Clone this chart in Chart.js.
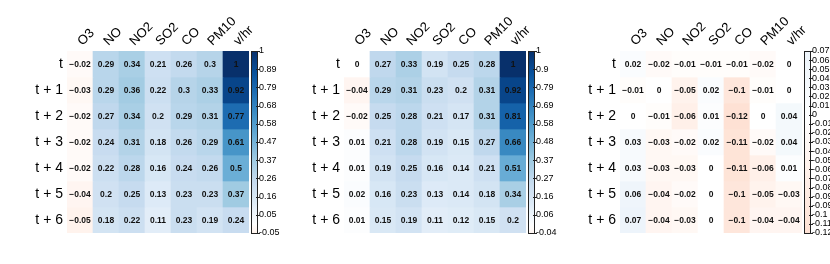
<!DOCTYPE html>
<html>
<head>
<meta charset="utf-8">
<script src="https://cdn.jsdelivr.net/npm/chart.js@4/dist/chart.umd.min.js"></script>
<style>
  body { margin: 0; background: #fff; }
  #wrap { position: relative; width: 830px; height: 264px; overflow: hidden; }
  canvas { position: absolute; top: 0; }
</style>
</head>
<body>
<div id="wrap">
  <canvas id="c1" width="280" height="264" style="left:0px"></canvas>
  <canvas id="c2" width="280" height="264" style="left:280px"></canvas>
  <canvas id="c3" width="270" height="264" style="left:560px"></canvas>
</div>
<script>
// columns and lag rows
const cols = ['O3', 'NO', 'NO2', 'SO2', 'CO', 'PM10', 'v/hr'];
const rows = ['t', 't + 1', 't + 2', 't + 3', 't + 4', 't + 5', 't + 6'];

// correlation values, one array per row (t .. t + 6)
const corrLeft = [
    [-0.02, 0.29, 0.34, 0.21, 0.26, 0.3, 1],
    [-0.03, 0.29, 0.36, 0.22, 0.3, 0.33, 0.92],
    [-0.02, 0.27, 0.34, 0.2, 0.29, 0.31, 0.77],
    [-0.02, 0.24, 0.31, 0.18, 0.26, 0.29, 0.61],
    [-0.02, 0.22, 0.28, 0.16, 0.24, 0.26, 0.5],
    [-0.04, 0.2, 0.25, 0.13, 0.23, 0.23, 0.37],
    [-0.05, 0.18, 0.22, 0.11, 0.23, 0.19, 0.24],
];
const corrMid = [
    [0, 0.27, 0.33, 0.19, 0.25, 0.28, 1],
    [-0.04, 0.29, 0.31, 0.23, 0.2, 0.31, 0.92],
    [-0.02, 0.25, 0.28, 0.21, 0.17, 0.31, 0.81],
    [0.01, 0.21, 0.28, 0.19, 0.15, 0.27, 0.66],
    [0.01, 0.19, 0.25, 0.16, 0.14, 0.21, 0.51],
    [0.02, 0.16, 0.23, 0.13, 0.14, 0.18, 0.34],
    [0.01, 0.15, 0.19, 0.11, 0.12, 0.15, 0.2],
];
const corrRight = [
    [0.02, -0.02, -0.01, -0.01, -0.01, -0.02, 0],
    [-0.01, 0, -0.05, 0.02, -0.1, -0.01, 0],
    [0, -0.01, -0.06, 0.01, -0.12, 0, 0.04],
    [0.03, -0.03, -0.02, 0.02, -0.11, -0.02, 0.04],
    [0.03, -0.03, -0.03, 0, -0.11, -0.06, 0.01],
    [0.06, -0.04, -0.02, 0, -0.1, -0.05, -0.03],
    [0.07, -0.04, -0.03, 0, -0.1, -0.04, -0.04],
];

// colour bar tick labels, top to bottom
const keyLeft = ['1', '0.89', '0.79', '0.68', '0.58', '0.47', '0.37', '0.26', '0.16', '0.05', '-0.05'];
const keyMid = ['1', '0.9', '0.79', '0.69', '0.58', '0.48', '0.37', '0.27', '0.16', '0.06', '-0.04'];
const keyRight = ['0.07', '0.06', '0.05', '0.04', '0.03', '0.02', '0.01', '0', '-0.01', '-0.02', '-0.03',
    '-0.04', '-0.05', '-0.06', '-0.07', '-0.08', '-0.09', '-0.09', '-0.1', '-0.11', '-0.12'];

const FONT = "'Liberation Sans', Arial, sans-serif";

// blues for positive, reds for negative (scale -1 .. 1)
const blues = ['#ffffff', '#deebf7', '#c6dbef', '#9ecae1', '#6baed6', '#4292c6', '#2171b5', '#08519c', '#08306b'];
const reds = ['#ffffff', '#fee0d2', '#fcbba1', '#fc9272', '#fb6a4a', '#ef3b2c', '#cb181d', '#a50f15', '#67000d'];

function hexRgb(h) {
    return [parseInt(h.slice(1, 3), 16), parseInt(h.slice(3, 5), 16), parseInt(h.slice(5, 7), 16)];
}

function colorFor(v) {
    const pal = v < 0 ? reds : blues;
    const t = Math.min(1, Math.abs(v)) * (pal.length - 1);
    const i = Math.min(pal.length - 2, Math.floor(t));
    const f = t - i;
    const a = hexRgb(pal[i]), b = hexRgb(pal[i + 1]);
    const c = a.map((x, k) => Math.round(x + (b[k] - x) * f));
    return `rgb(${c[0]},${c[1]},${c[2]})`;
}

function fmt(v) {
    return String(v).replace('-', '\u2212');
}

// cell text
const cellText = {
    id: 'cellText',
    afterDatasetsDraw(chart) {
        const ctx = chart.ctx;
        const mat = chart.options.plugins.cellText.values;
        ctx.save();
        ctx.font = `bold 8.5px ${FONT}`;
        ctx.fillStyle = '#111';
        ctx.textAlign = 'center';
        ctx.textBaseline = 'middle';
        chart.data.datasets.forEach((ds, r) => {
            chart.getDatasetMeta(r).data.forEach((bar, c) => {
                ctx.fillText(fmt(mat[r][c]), bar.x, (bar.y + bar.base) / 2 + 0.5);
            });
        });
        ctx.restore();
    }
};

// colour key drawn on the right axis
const colorKey = {
    id: 'colorKey',
    afterDraw(chart) {
        const sc = chart.scales.key;
        const ctx = chart.ctx;
        const x0 = chart.chartArea.right + 2;
        const w = 6;
        const top = sc.getPixelForValue(sc.max);
        const bot = sc.getPixelForValue(sc.min);
        const g = ctx.createLinearGradient(0, bot, 0, top);
        for (let k = 0; k <= 40; k++) {
            const v = sc.min + (sc.max - sc.min) * k / 40;
            g.addColorStop(k / 40, colorFor(v));
        }
        ctx.save();
        ctx.fillStyle = g;
        ctx.fillRect(x0, top, w, bot - top);
        ctx.strokeStyle = '#222';
        ctx.lineWidth = 1;
        ctx.strokeRect(x0 + 0.5, top + 0.5, w, bot - top);
        sc.ticks.forEach(t => {
            const y = Math.round(sc.getPixelForValue(t.value)) + 0.5;
            ctx.beginPath();
            ctx.moveTo(x0 + w - 1, y);
            ctx.lineTo(x0 + w + 3, y);
            ctx.stroke();
        });
        ctx.restore();
    }
};

function makeHeatmap(id, values, keyLabels, yWidth, keyWidth) {
    const keyMax = parseFloat(keyLabels[0]);
    const keyMin = parseFloat(keyLabels[keyLabels.length - 1]);
    const datasets = rows.map((r, i) => ({
        label: r,
        data: cols.map(() => 1),
        backgroundColor: values[i].map(colorFor),
        borderWidth: 0,
        barPercentage: 1,
        categoryPercentage: 1,
    }));
    return new Chart(document.getElementById(id), {
        type: 'bar',
        data: { labels: cols, datasets: datasets },
        options: {
            responsive: false,
            animation: false,
            layout: { padding: { top: 0, bottom: 31, left: 0, right: 0 } },
            plugins: {
                legend: { display: false },
                tooltip: { enabled: false },
                cellText: { values: values },
            },
            scales: {
                x: {
                    position: 'top',
                    stacked: true,
                    grid: { display: false, drawTicks: false },
                    border: { display: false },
                    ticks: {
                        minRotation: 45, maxRotation: 45, padding: 2, autoSkip: false,
                        labelOffset: 11,
                        color: '#000', font: { family: FONT, size: 13 },
                    },
                    afterFit: s => { s.height = 51; },
                },
                y: {
                    stacked: true,
                    reverse: true,
                    min: 0,
                    max: 7,
                    grid: { display: false, drawTicks: false },
                    border: { display: false },
                    afterBuildTicks: s => { s.ticks = rows.map((r, i) => ({ value: i + 0.5 })); },
                    ticks: {
                        padding: 4, color: '#000', font: { family: FONT, size: 14 },
                        callback: (v, i) => rows[i],
                    },
                    afterFit: s => { s.width = yWidth; },
                },
                key: {
                    type: 'linear',
                    position: 'right',
                    min: keyMin,
                    max: keyMax,
                    grid: { display: false, drawTicks: false },
                    border: { display: false },
                    afterBuildTicks: s => {
                        const n = keyLabels.length;
                        s.ticks = keyLabels.map((l, i) => ({ value: keyMin + (keyMax - keyMin) * i / (n - 1) }));
                    },
                    ticks: {
                        padding: 10, autoSkip: false, color: '#000',
                        font: { family: FONT, size: 9 },
                        callback: (v, i) => keyLabels[keyLabels.length - 1 - i],
                    },
                    afterFit: s => { s.width = keyWidth; },
                },
            },
        },
        plugins: [cellText, colorKey],
    });
}

makeHeatmap('c1', corrLeft, keyLeft, 67, 31);
makeHeatmap('c2', corrMid, keyMid, 64, 34);
makeHeatmap('c3', corrRight, keyRight, 60, 28);
</script>
</body>
</html>
